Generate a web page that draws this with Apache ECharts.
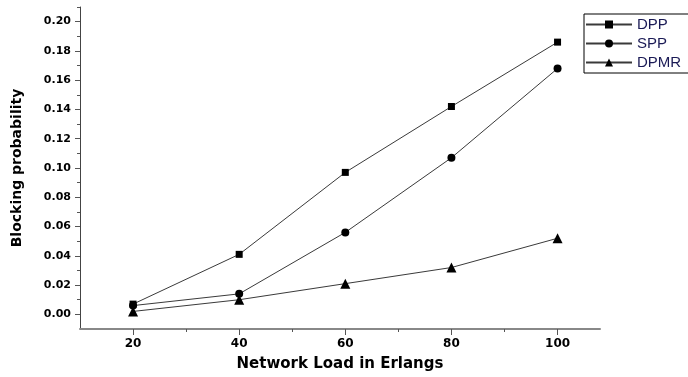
<!DOCTYPE html>
<html>
<head>
<meta charset="utf-8">
<script src="https://cdn.jsdelivr.net/npm/echarts@6/dist/echarts.min.js"></script>
<style>
html, body { margin: 0; padding: 0; background: #fff; }
#main { width: 688px; height: 377px; }
</style>
</head>
<body>
<div id="main"></div>
<script>
var loads = [20, 40, 60, 80, 100];
var dpp = [0.007, 0.041, 0.097, 0.142, 0.186];
var spp = [0.006, 0.014, 0.056, 0.107, 0.168];
var dpmr = [0.002, 0.010, 0.021, 0.032, 0.052];
var xMajor = [20, 40, 60, 80, 100];
var xMinor = [30, 50, 70, 90];
var yMajor = [0, 0.02, 0.04, 0.06, 0.08, 0.10, 0.12, 0.14, 0.16, 0.18, 0.20];
var yMinor = [0.01, 0.03, 0.05, 0.07, 0.09, 0.11, 0.13, 0.15, 0.17, 0.19, 0.21];

var chart = echarts.init(document.getElementById('main'));

function pairs(vals) {
    return loads.map(function (x, i) { return [x, vals[i]]; });
}

var lineCol = '#3a3a3a';
var font = 'DejaVu Sans';

function mk(name, vals, symbol, size) {
    return {
        name: name,
        type: 'line',
        data: pairs(vals),
        symbol: symbol,
        symbolSize: size,
        showSymbol: true,
        lineStyle: { color: lineCol, width: 1 },
        itemStyle: { color: '#000' },
        emphasis: { disabled: true }
    };
}

var option = {
    animation: false,
    backgroundColor: '#fff',
    grid: { left: 80, right: 88, top: 7, bottom: 46 },
    legend: {
        orient: 'vertical',
        left: 584,
        top: 14,
        padding: [3, 12, 3, 1],
        itemGap: 4,
        itemWidth: 46,
        itemHeight: 10,
        borderColor: '#000',
        borderWidth: 1,
        textStyle: { color: '#1a1a55', fontSize: 15, fontFamily: 'Liberation Sans' },
        data: ['DPP', 'SPP', 'DPMR']
    },
    xAxis: [{
        type: 'value',
        min: 10,
        max: 108,
        name: 'Network Load in Erlangs',
        nameLocation: 'middle',
        nameGap: 28,
        nameTextStyle: { color: '#000', fontSize: 15, fontWeight: 'bold', fontFamily: font },
        axisLine: { show: true, onZero: false, lineStyle: { color: '#888', width: 2 } },
        axisTick: { show: true, length: 6, customValues: xMajor, lineStyle: { color: '#555' } },
        axisLabel: { customValues: xMajor, color: '#000', fontSize: 12, fontWeight: 'bold', fontFamily: font, margin: 9 },
        splitLine: { show: false }
    }, {
        type: 'value',
        position: 'bottom',
        min: 10,
        max: 108,
        axisLine: { show: false, onZero: false },
        axisTick: { show: true, length: 3, customValues: xMinor, lineStyle: { color: '#555' } },
        axisLabel: { show: false },
        splitLine: { show: false }
    }],
    yAxis: [{
        type: 'value',
        position: 'left',
        min: -0.01,
        max: 0.21,
        name: 'Blocking probability',
        nameLocation: 'middle',
        nameGap: 56,
        nameTextStyle: { color: '#000', fontSize: 14, fontWeight: 'bold', fontFamily: font },
        axisLine: { show: true, onZero: false, lineStyle: { color: '#444', width: 1 } },
        axisTick: { show: true, length: 5, customValues: yMajor, lineStyle: { color: '#555' } },
        axisLabel: {
            customValues: yMajor,
            color: '#000', fontSize: 11, fontWeight: 'bold', fontFamily: font, margin: 9,
            formatter: function (v) { return v.toFixed(2); }
        },
        splitLine: { show: false }
    }, {
        type: 'value',
        position: 'left',
        min: -0.01,
        max: 0.21,
        axisLine: { show: false, onZero: false },
        axisTick: { show: true, length: 3, customValues: yMinor, lineStyle: { color: '#555' } },
        axisLabel: { show: false },
        splitLine: { show: false }
    }],
    series: [
        mk('DPP', dpp, 'rect', 7),
        mk('SPP', spp, 'circle', 8),
        mk('DPMR', dpmr, 'triangle', 10)
    ]
};
chart.setOption(option);
window.addEventListener('resize', function () {
    chart.resize();
});
</script>
</body>
</html>
